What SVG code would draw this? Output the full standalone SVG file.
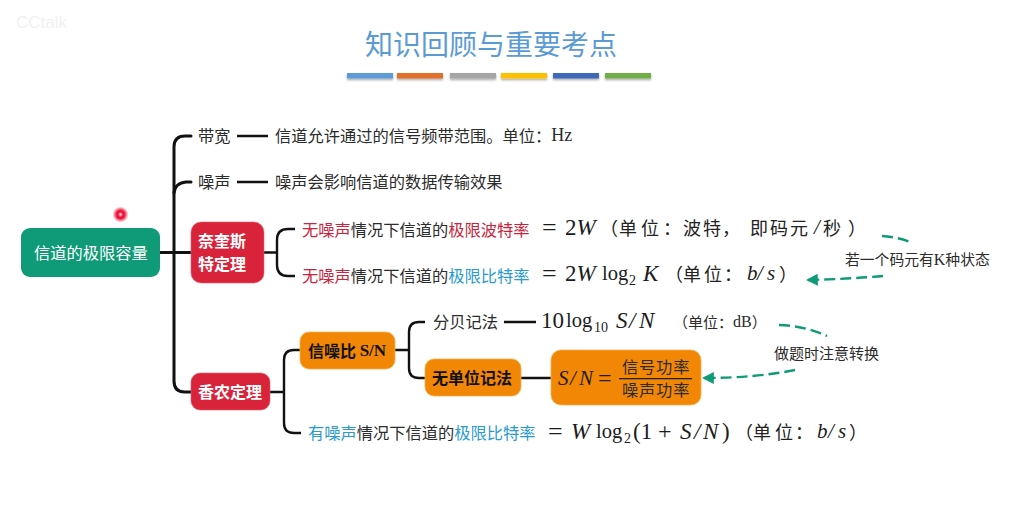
<svg xmlns="http://www.w3.org/2000/svg" width="1009" height="515" viewBox="0 0 1009 515">
<style>
text{font-family:"Noto Sans CJK SC","Noto Sans",sans-serif;font-size:16.250px;fill:#2b2b2b;dominant-baseline:central}
.m{font-family:"Liberation Serif","Noto Sans CJK SC",serif;font-size:23px;fill:#1c1c1c}
.i{font-style:italic}
.log{font-size:20.500px}
.sub{font-size:14px}
.eq{font-size:26px}
.lat{font-family:"Liberation Serif",serif}
.w{fill:#fff;font-weight:700;font-size:16px}
.b{fill:#111;font-weight:700;font-size:16px}
.red{fill:#c9243c}
.blue{fill:#2a9bd0}
.u{font-size:18px;fill:#222}
.c{fill:none;stroke:#111;stroke-width:3;stroke-linecap:round}
.t{fill:none;stroke:#111;stroke-width:2.400}
.d{fill:none;stroke:#0f9a78;stroke-width:2.400;stroke-dasharray:11 5}
.o{fill:#f28705;stroke:#f7b04e;stroke-width:.8}
.r{fill:#d9233b;stroke:#e8606f;stroke-width:.6}
.bar{filter:url(#sh)}
</style>
<defs>
<radialGradient id="dot"><stop offset="0" stop-color="#fff"/><stop offset=".2" stop-color="#ff5070"/><stop offset=".45" stop-color="#e8002c"/><stop offset=".7" stop-color="#f03050" stop-opacity=".7"/><stop offset="1" stop-color="#ff4060" stop-opacity="0"/></radialGradient>
<filter id="sh" x="-10%" y="-50%" width="120%" height="220%"><feDropShadow dx="0" dy="1.500" stdDeviation="1" flood-color="#000" flood-opacity=".35"/></filter>
<marker id="a" viewBox="0 0 10 10" refX="9" refY="5" markerWidth="5" markerHeight="5" orient="auto" markerUnits="strokeWidth"><path d="M0 0L10 5L0 10z" fill="#0f9a78"/></marker>
</defs>
<rect width="1009" height="515" fill="#fff"/>
<text x="16" y="22" style="font-family:'Liberation Sans',sans-serif;font-size:17px;fill:#f1f1f1">CCtalk</text>
<circle cx="120.500" cy="214.500" r="8" fill="url(#dot)"/>
<g id="title">
<text x="365" y="42.500" style="font-size:28px;fill:#5b9bd5">知识回顾与重要考点</text>
<rect class="bar" x="347" y="73" width="46" height="5.500" fill="#5b9bd5"/>
<rect class="bar" x="397" y="73" width="46" height="5.500" fill="#e0702c"/>
<rect class="bar" x="450" y="73" width="46" height="5.500" fill="#a5a5a5"/>
<rect class="bar" x="501" y="73" width="46" height="5.500" fill="#ffc000"/>
<rect class="bar" x="553" y="73" width="46" height="5.500" fill="#4068b8"/>
<rect class="bar" x="605" y="73" width="46" height="5.500" fill="#70ad47"/>
</g>
<g id="connectors">
<path class="c" d="M191 136H185Q174 136 174 147V381Q174 392 185 392H191"/>
<path class="c" d="M191 182H186Q175 183 174 193"/>
<path class="c" d="M160 252.500H191"/>
<path class="t" d="M264 252.500H277M295 229H288Q277 229 277 240V265Q277 276 288 276H295"/>
<path class="t" d="M270 392H284M300 350H294Q284 350 284 360V423Q284 433 294 433H301"/>
<path class="t" d="M395 350H409M425 322H419Q409 322 409 332V368Q409 378 419 378H425"/>
<path class="t" d="M237 136H268M237 182H268M504 322H536M521 378H551"/>
<path class="d" d="M882 236Q898 237 913 243"/>
<path class="d" d="M883 276Q850 279 807 280" marker-end="url(#a)"/>
<path class="d" d="M779 325Q806 326 827 336"/>
<path class="d" d="M795 370Q755 378 703 378" marker-end="url(#a)"/>
</g>
<g id="root"><rect x="21" y="228" width="139" height="49" rx="9" fill="#0f9a78"/><text x="34" y="251.500" style="fill:#fff">信道的极限容量</text></g>
<g id="bandwidth"><text x="198" y="135">带宽</text></g>
<g id="bandwidth-def"><text x="275" y="135">信道允许通过的信号频带范围。单位：<tspan class="lat" style="font-size:18px">Hz</tspan></text></g>
<g id="noise"><text x="198" y="181">噪声</text></g>
<g id="noise-def"><text x="275" y="181">噪声会影响信道的数据传输效果</text></g>
<g id="nyquist"><rect class="r" x="191" y="222" width="73" height="61" rx="10"/><text class="w" x="198" y="240">奈奎斯</text><text class="w" x="198" y="263">特定理</text></g>
<g id="nyq-baud">
<text x="302" y="229"><tspan class="red">无噪声</tspan>情况下信道的<tspan class="red">极限波特率</tspan></text>
<text class="m eq" x="542" y="227">=</text>
<text class="m" x="565" y="227">2<tspan class="i">W</tspan></text>
<text class="u" y="227" x="600 619 641 663 683 703 722 750 770 790">（单位：波特，即码元</text>
<text class="m i" x="814" y="227" style="font-size:21px">/</text>
<text class="u" y="227" x="823 848">秒）</text>
</g>
<g id="nyq-bit">
<text x="302" y="275"><tspan class="red">无噪声</tspan>情况下信道的<tspan class="blue">极限比特率</tspan></text>
<text class="m eq" x="542" y="273">=</text>
<text class="m" x="565" y="273">2<tspan class="i">W</tspan></text>
<text class="m log" x="602" y="273">log</text>
<text class="m sub" x="629" y="280">2</text>
<text class="m i" x="643" y="273">K</text>
<text class="u" y="273" x="665 683 704 724">（单位：</text>
<text class="m i" y="273" x="747 757 767" style="font-size:21px">b/s</text>
<text class="u" y="273" x="779">）</text>
</g>
<g id="note-k"><text x="845" y="258.500" style="font-size:14.800px">若一个码元有<tspan class="lat" style="font-size:16px">K</tspan>种状态</text></g>
<g id="shannon"><rect class="r" x="191" y="373" width="79" height="37" rx="9"/><text class="w" x="198" y="391">香农定理</text></g>
<g id="snr"><rect class="o" x="300" y="332" width="95" height="37" rx="9"/><text class="b" x="308" y="349.500">信噪比 <tspan class="lat" style="font-size:17px">S/N</tspan></text></g>
<g id="db"><text x="433" y="321">分贝记法</text></g>
<g id="db-formula">
<text class="m" x="541" y="320">10</text>
<text class="m log" x="566" y="320">log</text>
<text class="m sub" x="594" y="327">10</text>
<text class="m i" y="320" x="616 629 639">S/N</text>
<text x="673" y="321" style="font-size:15px">（单位：<tspan class="lat" style="font-size:16px">dB</tspan>）</text></g>
<g id="unitless"><rect class="o" x="425" y="359" width="96" height="37" rx="9"/><text class="b" x="432" y="377">无单位记法</text></g>
<g id="ratio"><rect class="o" x="551" y="350" width="150" height="55" rx="10"/>
<text class="m i" y="378" x="558 570 579" style="font-size:21px">S/N</text>
<text class="m" x="598" y="378" style="font-size:24px">=</text>
<rect x="619" y="378" width="73" height="1.300" fill="#222"/>
<text x="622" y="366" style="letter-spacing:.8px">信号功率</text>
<text x="622" y="389" style="letter-spacing:.8px">噪声功率</text></g>
<g id="capacity">
<text x="308" y="432"><tspan class="blue">有噪声</tspan>情况下信道的<tspan class="blue">极限比特率</tspan></text>
<text class="m eq" x="548" y="431">=</text>
<text class="m i" x="571" y="431">W</text>
<text class="m log" x="596" y="431">log</text>
<text class="m sub" x="624" y="438">2</text>
<text class="m" x="633" y="431">(1</text>
<text class="m" x="658" y="431" style="font-size:24px">+</text>
<text class="m i" y="431" x="680 694 703">S/N</text>
<text class="m" x="722" y="431">)</text>
<text class="u" y="431" x="735 753 775 795">（单位：</text>
<text class="m i" y="431" x="817 828 838" style="font-size:21px">b/s</text>
<text class="u" y="431" x="849">）</text>
</g>
<g id="note-conv"><text x="774" y="352.500" style="font-size:15px">做题时注意转换</text></g>
</svg>
